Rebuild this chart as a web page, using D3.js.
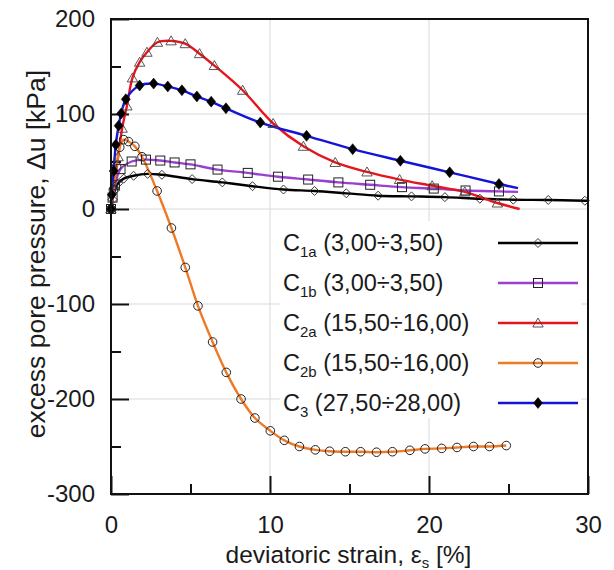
<!DOCTYPE html>
<html>
<head>
<meta charset="utf-8">
<script src="https://cdn.jsdelivr.net/npm/d3@7"></script>
<style>
  body { margin: 0; background: #fff; }
  text { font-family: "Liberation Sans", Arial, sans-serif; fill: #1a1a1a; }
</style>
</head>
<body>
<svg id="chart" width="614" height="570"></svg>
<script>
// Excess pore pressure vs. deviatoric strain, five samples
const xTicks = [0, 10, 20, 30];
const xMinorTicks = [5, 15, 25];
const yTicks = [200, 100, 0, -100, -200, -300];
const yMinorTicks = [150, 50, -50, -150, -250];

// measured points [strain %, Δu kPa]
const C1a = [[0,0],[0.1,10],[0.25,20],[0.45,27],[0.8,32],[1.42,35],[2.3,37],[3.2,36],[5.1,31.5],[7.0,28],[8.9,24],[10.85,20.5],[12.8,19],[14.8,16.5],[16.8,14],[18.9,13.3],[21.0,12.5],[23.2,10.8],[25.3,9.8],[27.5,9.5],[29.8,8.7]];
const C1b = [[0,0],[0.1,12],[0.25,25],[0.6,42],[1.3,50],[2.2,52],[3.1,51],[4.0,49],[5.0,47],[6.7,41.5],[8.6,38],[10.5,34],[12.4,31],[14.3,28],[16.3,25.5],[18.3,23],[20.3,21.5],[22.3,19.5],[24.4,18.5]];
const C2a = [[0,0],[0.2,25],[0.45,55],[0.7,85],[1.0,108.5],[1.35,138],[1.8,154.5],[2.26,165],[2.92,175.5],[3.78,177],[4.67,174],[5.57,163.5],[6.5,151],[8.28,125],[10.2,90],[12.1,66],[14.1,49],[16.1,39],[18.15,31],[20.2,24.5],[22.25,18],[24.3,6.3]];
const C2b = [[0,0],[0.15,20],[0.35,45],[0.55,65],[0.8,73],[1.1,71],[1.5,66],[1.95,55],[2.9,19],[3.8,-20],[4.67,-61.5],[5.47,-102],[6.39,-140],[7.25,-172],[8.18,-200],[9.05,-220],[10.02,-233.5],[10.9,-243.5],[11.85,-250],[12.85,-253.5],[13.75,-255],[14.74,-255.5],[15.7,-255.5],[16.7,-256],[17.7,-255.5],[18.8,-254],[19.75,-252.5],[20.8,-252],[21.76,-251],[22.8,-250],[23.8,-250],[24.86,-249]];
const C3 = [[0,0],[0.05,15],[0.17,40],[0.3,67.7],[0.48,87.7],[0.64,100.5],[0.93,115.5],[1.8,130],[2.68,132],[3.57,129],[4.46,125],[5.4,118.5],[6.3,113],[7.23,106],[9.39,91],[12.3,77],[15.2,63],[18.2,50.8],[21.3,38.6],[24.4,26.3]];

// where each fitted curve stops beyond its last measured point
const C1aEnd = [30, 8.7];
const C1bEnd = [25.6, 18];
const C2aEnd = [25.7, 0];
const C2bEnd = null;
const C3End = [25.6, 22];

const series = [
  { id: "1a", sub: "1a", range: "(3,00÷3,50)",   pts: C1a, end: C1aEnd, color: "#000000", marker: "diamondOpen" },
  { id: "1b", sub: "1b", range: "(3,00÷3,50)",   pts: C1b, end: C1bEnd, color: "#9b3fd0", marker: "square" },
  { id: "2a", sub: "2a", range: "(15,50÷16,00)", pts: C2a, end: C2aEnd, color: "#e8141c", marker: "triangle" },
  { id: "2b", sub: "2b", range: "(15,50÷16,00)", pts: C2b, end: C2bEnd, color: "#ee7a26", marker: "circle" },
  { id: "3",  sub: "3",  range: "(27,50÷28,00)", pts: C3,  end: C3End,  color: "#1414d8", marker: "diamondFilled" }
];

const svg = d3.select("#chart");
const plotLeft = 111, plotRight = 588, plotTop = 19, plotBottom = 494;
const x = d3.scaleLinear().domain([0, 30]).range([plotLeft, plotRight]);
const y = d3.scaleLinear().domain([-300, 200]).range([plotBottom, plotTop]);

svg.append("defs").append("clipPath").attr("id", "plotClip")
  .append("rect").attr("x", plotLeft).attr("y", plotTop)
  .attr("width", plotRight - plotLeft).attr("height", plotBottom - plotTop);

// grid
const grid = svg.append("g").attr("stroke", "#d9d9d9").attr("stroke-width", 1);
grid.selectAll(".gx").data(xTicks.slice(1, -1)).join("line")
  .attr("x1", d => x(d)).attr("x2", d => x(d)).attr("y1", plotTop).attr("y2", plotBottom);
grid.selectAll(".gy").data(yTicks.slice(1, -1)).join("line")
  .attr("x1", plotLeft).attr("x2", plotRight).attr("y1", d => y(d)).attr("y2", d => y(d));

// legend background hides the grid behind it
svg.append("rect").attr("x", 280).attr("y", 221).attr("width", 301).attr("height", 197).attr("fill", "#fff");

// axes: inward ticks, plain hyphen for negatives
const fontSize = 24;
const plain = d => String(d);
const xAxis = svg.append("g").attr("transform", `translate(0,${plotBottom})`)
  .call(d3.axisBottom(x).tickValues(xTicks).tickSizeInner(-18).tickSizeOuter(0).tickPadding(22).tickFormat(plain));
const xMinor = svg.append("g").attr("transform", `translate(0,${plotBottom})`)
  .call(d3.axisBottom(x).tickValues(xMinorTicks).tickSizeInner(-10).tickSizeOuter(0).tickFormat(""));
const yAxis = svg.append("g").attr("transform", `translate(${plotLeft},0)`)
  .call(d3.axisLeft(y).tickValues(yTicks).tickSizeInner(-18).tickSizeOuter(0).tickPadding(16).tickFormat(plain));
const yMinor = svg.append("g").attr("transform", `translate(${plotLeft},0)`)
  .call(d3.axisLeft(y).tickValues(yMinorTicks).tickSizeInner(-10).tickSizeOuter(0).tickFormat(""));
[xAxis, xMinor, yAxis, yMinor].forEach(g => {
  g.select(".domain").remove();
  g.selectAll(".tick line").attr("stroke", "#111").attr("stroke-width", 2);
  g.selectAll(".tick text").attr("font-size", fontSize).attr("fill", "#1a1a1a")
    .style("font-family", '"Liberation Sans", Arial, sans-serif');
});

// curves
const line = d3.line().x(d => x(d[0])).y(d => y(d[1])).curve(d3.curveCatmullRom.alpha(0.5));
const plot = svg.append("g").attr("clip-path", "url(#plotClip)");
series.forEach(s => {
  const pts = s.end ? s.pts.concat([s.end]) : s.pts;
  plot.append("path").attr("d", line(pts)).attr("fill", "none")
    .attr("stroke", s.color).attr("stroke-width", 2.4);
});

// marker shapes
function drawMarker(g, type, cx, cy) {
  const k = "#222";
  if (type === "diamondOpen") {
    g.append("path").attr("d", `M${cx},${cy-4.5}L${cx+4.5},${cy}L${cx},${cy+4.5}L${cx-4.5},${cy}Z`)
      .attr("fill", "none").attr("stroke", k).attr("stroke-width", 0.9);
  } else if (type === "square") {
    g.append("rect").attr("x", cx - 4.5).attr("y", cy - 4.5).attr("width", 9).attr("height", 9)
      .attr("fill", "none").attr("stroke", k).attr("stroke-width", 1);
  } else if (type === "triangle") {
    g.append("path").attr("d", `M${cx},${cy-5}L${cx+5.2},${cy+4}L${cx-5.2},${cy+4}Z`)
      .attr("fill", "none").attr("stroke", "#444").attr("stroke-width", 0.9);
  } else if (type === "circle") {
    g.append("circle").attr("cx", cx).attr("cy", cy).attr("r", 4.3)
      .attr("fill", "none").attr("stroke", k).attr("stroke-width", 1);
  } else if (type === "diamondFilled") {
    g.append("path").attr("d", `M${cx},${cy-5.5}L${cx+4.5},${cy}L${cx},${cy+5.5}L${cx-4.5},${cy}Z`)
      .attr("fill", "#000").attr("stroke", "#000").attr("stroke-width", 0.5);
  }
}
series.forEach(s => {
  const g = svg.append("g");
  s.pts.forEach(p => drawMarker(g, s.marker, x(p[0]), y(p[1])));
});

// frame
svg.append("rect").attr("x", plotLeft).attr("y", plotTop)
  .attr("width", plotRight - plotLeft).attr("height", plotBottom - plotTop)
  .attr("fill", "none").attr("stroke", "#111").attr("stroke-width", 2);

// legend
const legend = svg.append("g");
series.forEach((s, i) => {
  const cy = 243 + i * 40;
  const t = legend.append("text").attr("x", 283).attr("y", cy + 8).attr("font-size", 23.5);
  t.append("tspan").text("C");
  t.append("tspan").attr("font-size", 15).attr("dy", 6).text(s.sub);
  t.append("tspan").attr("dy", -6).text(" " + s.range);
  legend.append("line").attr("x1", 498).attr("x2", 578).attr("y1", cy).attr("y2", cy)
    .attr("stroke", s.color).attr("stroke-width", 2.4);
  drawMarker(legend, s.marker, 538, cy);
});

// axis titles
const xt = svg.append("text").attr("x", (plotLeft + plotRight) / 2 - 1).attr("y", 563)
  .attr("text-anchor", "middle").attr("font-size", 24.5);
xt.append("tspan").text("deviatoric strain, ε");
xt.append("tspan").attr("font-size", 15).attr("dy", 5).text("s");
xt.append("tspan").attr("dy", -5).text(" [%]");

svg.append("text").attr("transform", "translate(45,254) rotate(-90)")
  .attr("text-anchor", "middle").attr("font-size", 26.5)
  .text("excess pore pressure, Δu [kPa]");
</script>
</body>
</html>
